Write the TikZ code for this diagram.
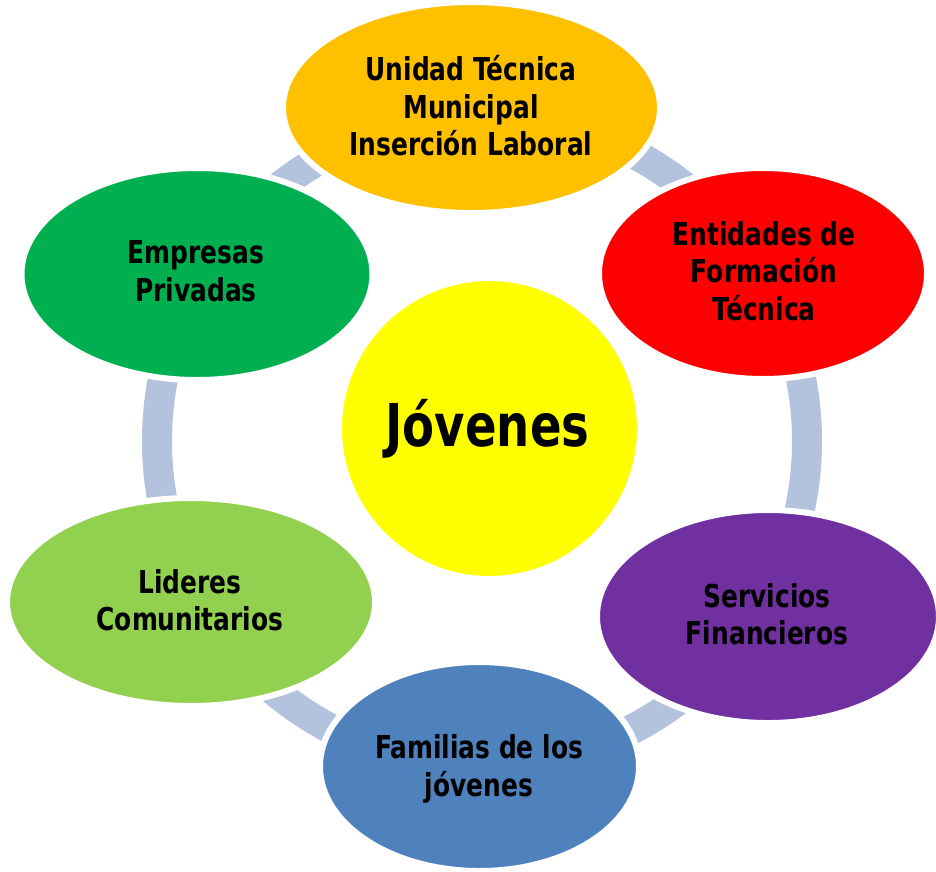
\documentclass[tikz,border=0pt]{standalone}
\usepackage{fontspec}
\usetikzlibrary{shapes.geometric}
\newfontfamily\lblfont[FakeStretch=0.79]{DejaVu Sans}
\definecolor{cOrange}{HTML}{FFC000}
\definecolor{cRed}{HTML}{FF0000}
\definecolor{cPurple}{HTML}{7030A0}
\definecolor{cBlue}{HTML}{4F81BD}
\definecolor{cLGreen}{HTML}{92D050}
\definecolor{cGreen}{HTML}{00B050}
\definecolor{cYellow}{HTML}{FFFF00}
\definecolor{cRing}{HTML}{B3C2DD}
\newcommand\sst{\rule[-11.5pt]{0pt}{37.5pt}}
\tikzset{
  bubble/.style={ellipse, draw=white, line width=6pt, inner sep=0pt},
  lbl/.style={align=center, inner sep=0pt, text=black,
    font=\lblfont\bfseries\fontsize{31.5}{37.5}\selectfont},
  ring/.style={draw=cRing, line width=30pt},
}
\begin{document}
\begin{tikzpicture}[x=1pt,y=-1pt]
\useasboundingbox (0,0) rectangle (936,871);
\fill[white] (0,0) rectangle (936,871);
% ring connecting the outer bubbles
\coordinate (ringc) at (482,441);
\draw[ring] (ringc) circle (325);
% outer bubbles
\node[bubble, fill=cOrange, minimum width=377pt, minimum height=211pt] (uni) at (471.5,107.5) {};
\node[bubble, fill=cRed, minimum width=328pt, minimum height=211pt] (ent) at (763,273.5) {};
\node[bubble, fill=cPurple, minimum width=342pt, minimum height=213pt] (ser) at (768,616.5) {};
\node[bubble, fill=cBlue, minimum width=319pt, minimum height=209pt] (fam) at (479.5,766.5) {};
\node[bubble, fill=cLGreen, minimum width=368pt, minimum height=208pt] (lid) at (191,602) {};
\node[bubble, fill=cGreen, minimum width=351pt, minimum height=212pt] (emp) at (197,274) {};
% centre
\node[circle, fill=cYellow, draw=white, line width=6pt, minimum size=301pt, inner sep=0pt] (jov) at (489.5,428.5) {};
% labels
\node[lbl] (unit) at (471,110.75) {\sst Unidad Técnica\\\sst Municipal\\\sst Inserción Laboral};
\node[lbl] (entt) at (764,275.25) {\sst Entidades de\\\sst Formación\\\sst Técnica};
\node[lbl] (sert) at (767,618.75) {\sst Servicios\\\sst Financieros};
\node[lbl] (famt) at (479,770.25) {\sst Familias de los\\\sst jóvenes};
\node[lbl] (lidt) at (190,604.75) {\sst Lideres\\\sst Comunitarios};
\node[lbl] (empt) at (196,275.25) {\sst Empresas\\\sst Privadas};
\node[anchor=base, inner sep=0pt, font=\lblfont\bfseries\fontsize{59}{70}\selectfont] (jovt) at (487.5,446) {Jóvenes};
\end{tikzpicture}
\end{document}
